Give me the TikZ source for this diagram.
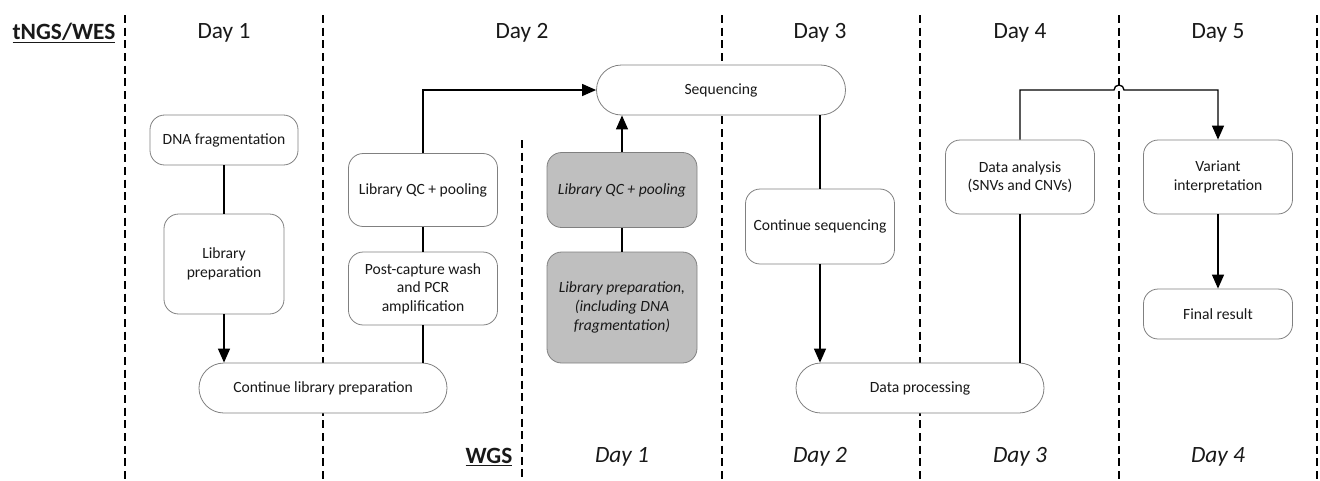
\documentclass[tikz,border=0pt]{standalone}
\usepackage{fontspec}
\setmainfont{Carlito}
\usetikzlibrary{arrows.meta}
\begin{document}
\begin{tikzpicture}[x=0.75pt,y=-0.75pt,
  daysep/.style={line width=1pt, dash pattern=on 6pt off 3.5pt},
  box/.style={draw=black!50, line width=0.6pt, rounded corners=11pt, fill=white, inner sep=2pt, align=center, font=\fontsize{11.7}{14}\selectfont, text=black!90},
  stadium/.style={box, rounded corners=18.7pt},
  wgsbox/.style={box, fill=black!25, font=\fontsize{11.7}{14}\selectfont\itshape},
  conn/.style={line width=1pt},
  arr/.style={conn, -{Triangle[length=10.5pt,width=9pt]}},
  hdr/.style={font=\fontsize{17.5}{20}\selectfont, text=black!90},
  hdri/.style={font=\fontsize{17.5}{20}\selectfont\itshape, text=black!90},
  hdrb/.style={font=\fontsize{17.5}{20}\selectfont\bfseries, text=black!90}]

\useasboundingbox (0,0) rectangle (1320,480);

% day separators
\foreach \x in {125,323,722,920,1119,1317} \draw[daysep] (\x,15) -- (\x,480);
\draw[daysep] (522,140) -- (522,480);

% headers
\node[hdrb] (tng) at (64,33) {\underline{tNGS/WES}};
\node[hdr] (d1) at (224,33) {Day 1};
\node[hdr] (d2) at (522,33) {Day 2};
\node[hdr] (d3) at (820,33) {Day 3};
\node[hdr] (d4) at (1020,33) {Day 4};
\node[hdr] (d5) at (1218,33) {Day 5};
\node[hdrb, anchor=east] (wgs) at (517,457) {\underline{WGS}};
\node[hdri] (w1) at (622,457) {Day 1};
\node[hdri] (w2) at (820,457) {Day 2};
\node[hdri] (w3) at (1020,457) {Day 3};
\node[hdri] (w4) at (1218,457) {Day 4};

% nodes
\node[box, minimum width=111pt, minimum height=37.5pt] (dna) at (224,140) {DNA fragmentation};
\node[box, minimum width=90pt, minimum height=75pt] (lp) at (224,264) {Library\\preparation};
\node[stadium, minimum width=186pt, minimum height=37.5pt] (clp) at (323,388) {Continue library preparation};
\node[box, minimum width=111.75pt, minimum height=54.75pt] (qc) at (423,190) {Library QC + pooling};
\node[box, minimum width=111.75pt, minimum height=54.75pt] (pcw) at (423,288.5) {Post-capture wash\\and PCR\\amplification};
\node[stadium, minimum width=186.75pt, minimum height=37.5pt] (seq) at (721,90) {Sequencing};
\node[wgsbox, minimum width=112.5pt, minimum height=56.25pt] (gqc) at (622,190) {Library QC + pooling};
\node[wgsbox, minimum width=112.5pt, minimum height=83.25pt] (glp) at (622,307.5) {Library preparation,\\(including DNA\\fragmentation)};
\node[box, minimum width=111.75pt, minimum height=56.25pt] (cs) at (820,226.5) {Continue sequencing};
\node[stadium, minimum width=186pt, minimum height=37.5pt] (dp) at (920,388) {Data processing};
\node[box, minimum width=111.75pt, minimum height=55.5pt] (da) at (1020,177) {Data analysis\\(SNVs and CNVs)};
\node[box, minimum width=111.75pt, minimum height=55.5pt] (vi) at (1218,177) {Variant\\interpretation};
\node[box, minimum width=111.75pt, minimum height=37.5pt] (fr) at (1218,314) {Final result};

% connectors
\draw[conn] (dna) -- (lp);
\draw[arr] (lp.south) -- (lp.south |- clp.north);
\draw[conn] (pcw.south |- clp.north) -- (pcw.south);
\draw[conn] (pcw) -- (qc);
\draw[arr] (qc.north) |- (seq.west);
\draw[conn] (glp) -- (gqc);
\draw[arr] (gqc.north) -- (gqc.north |- seq.south);
\draw[conn] (seq.south -| cs.north) -- (cs.north);
\draw[arr] (cs.south) -- (cs.south |- dp.north);
\draw[conn] (dp.north -| da.south) -- (da.south);
\coordinate (hop) at (1119,90);
\draw[arr] (da.north) -- (da.north |- hop) -- ([xshift=-3.75pt]hop) arc[start angle=180,end angle=0,radius=3.75pt] -- (vi.north |- hop) -- (vi.north);
\draw[arr] (vi) -- (fr);
\end{tikzpicture}
\end{document}
